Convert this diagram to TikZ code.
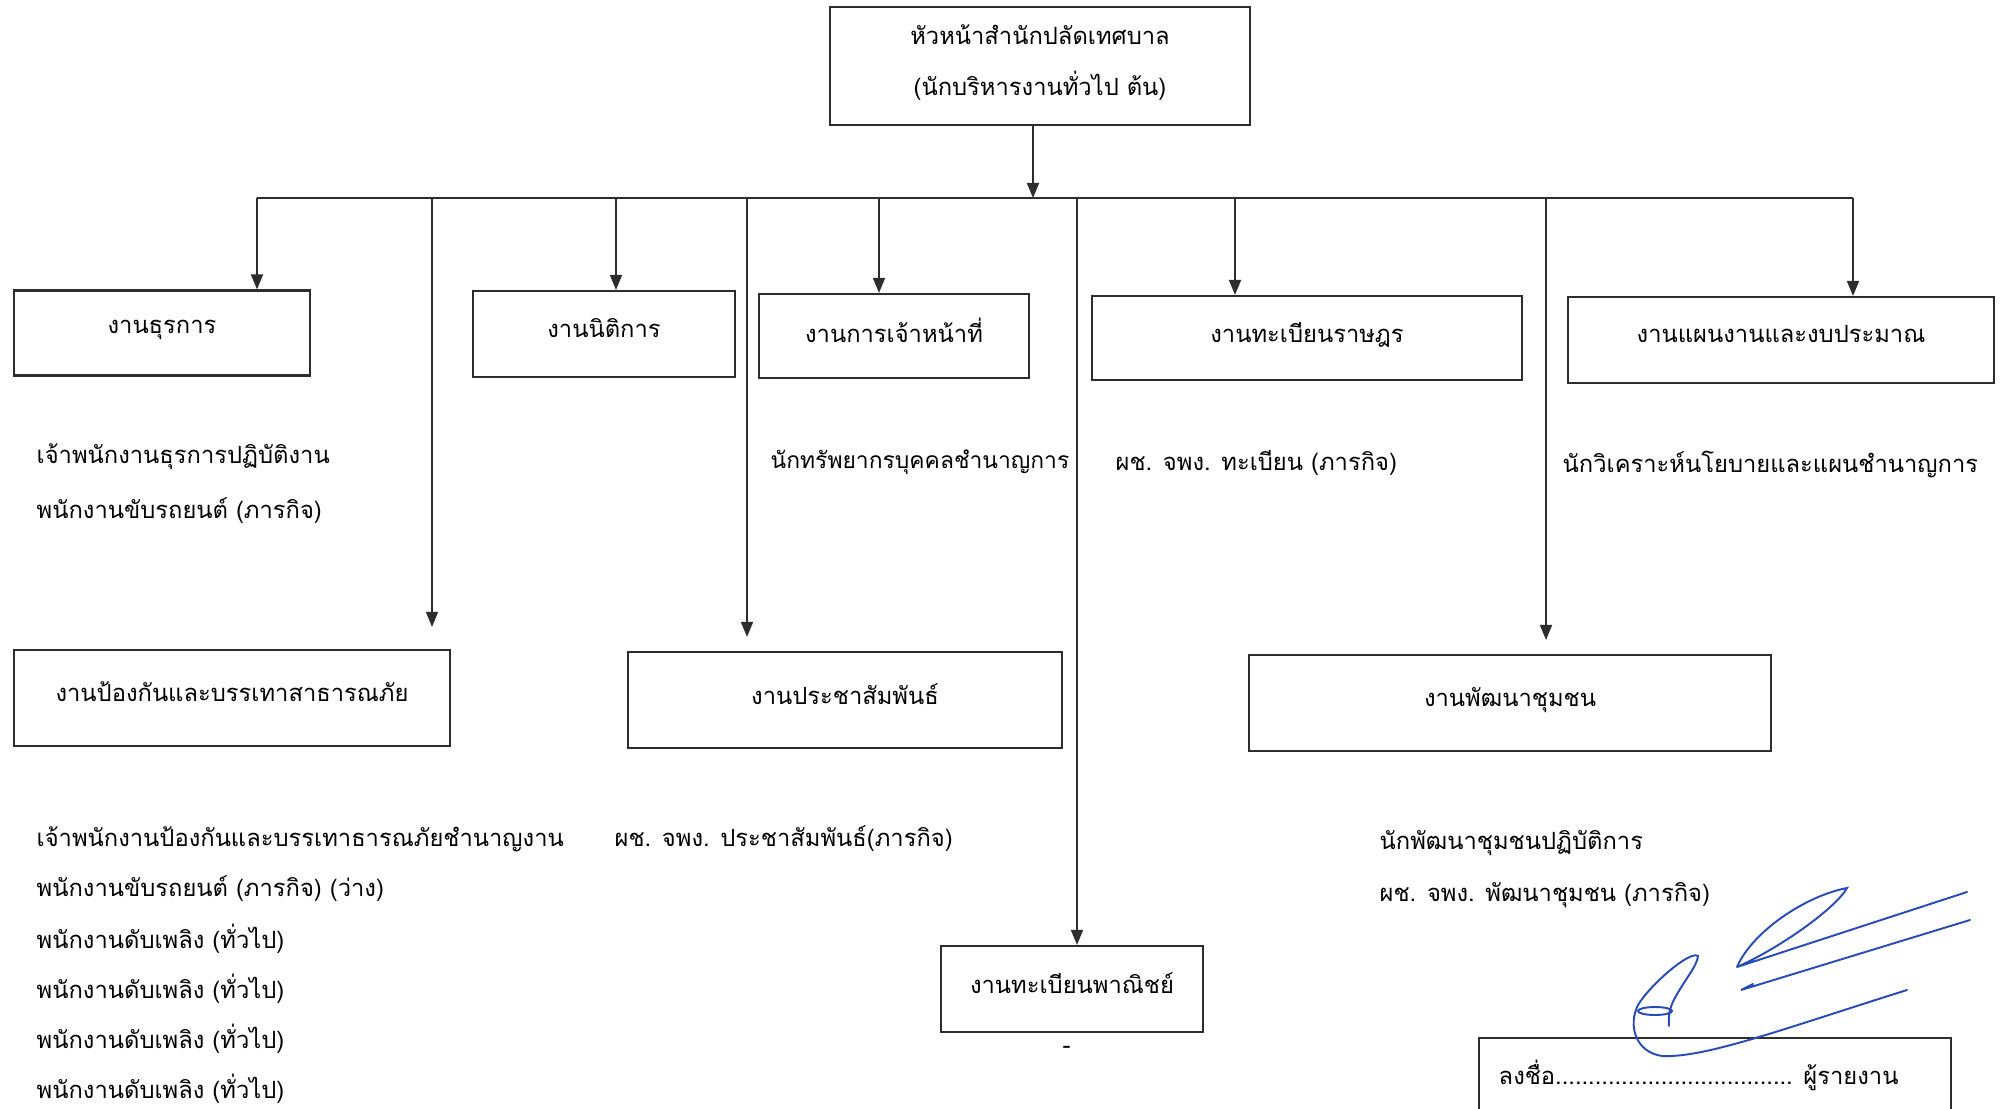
\documentclass[tikz,border=0pt]{standalone}
\usepackage{fontspec}
\setmainfont[Script=Thai]{Loma}
\usetikzlibrary{arrows.meta}
\definecolor{ink}{RGB}{45,45,45}
\definecolor{pen}{RGB}{40,75,185}
\begin{document}
\begin{tikzpicture}[x=0.01cm, y=-0.01cm, font=\fontsize{6.75}{9}\selectfont,
  >={Triangle[length=.15cm,width=.12cm]},
  box/.style={draw=ink, line width=.6pt, inner sep=0pt, text depth=.12cm},
  line/.style={draw=ink, line width=.5pt},
  staff/.style={anchor=west, inner sep=0pt},
  sign/.style={draw=pen, line width=.55pt, line cap=round}]
\useasboundingbox (0,0) rectangle (2002,1109);
% head
\node[box,minimum width=4.19cm,minimum height=1.18cm,align=center,font=\fontsize{6.75}{14.5}\selectfont] (n0) at (1040,66) {หัวหน้าสำนักปลัดเทศบาล\\(นักบริหารงานทั่วไป ต้น)};
% sections
\node[box,minimum width=2.96cm,minimum height=.85cm] (n1) at (162,333) {งานธุรการ};
\node[box,minimum width=2.61cm,minimum height=.86cm] (n2) at (604,334) {งานนิติการ};
\node[box,minimum width=2.69cm,minimum height=.84cm] (n3) at (894,336) {งานการเจ้าหน้าที่};
\node[box,minimum width=4.30cm,minimum height=.84cm] (n4) at (1307,338) {งานทะเบียนราษฎร};
\node[box,minimum width=4.25cm,minimum height=.86cm] (n5) at (1781,340) {งานแผนงานและงบประมาณ};
\node[box,minimum width=4.35cm,minimum height=.96cm] (n6) at (232,698) {งานป้องกันและบรรเทาสาธารณภัย};
\node[box,minimum width=4.33cm,minimum height=.96cm] (n7) at (845,700) {งานประชาสัมพันธ์};
\node[box,minimum width=5.22cm,minimum height=.96cm] (n8) at (1510,703) {งานพัฒนาชุมชน};
\node[box,minimum width=2.61cm,minimum height=.86cm] (n9) at (1072,989) {งานทะเบียนพาณิชย์};
% staff
\node[staff] (p1) at (36,457) {เจ้าพนักงานธุรการปฏิบัติงาน};
\node[staff] (p2) at (36,511) {พนักงานขับรถยนต์ (ภารกิจ)};
\node[staff,font=\fontsize{6.5}{9}\selectfont] (p3) at (770,462) {นักทรัพยากรบุคคลชำนาญการ};
\node[staff] (p4) at (1115,463) {ผช. จพง. ทะเบียน (ภารกิจ)};
\node[staff] (p5) at (1562,465) {นักวิเคราะห์นโยบายและแผนชำนาญการ};
\node[staff] (p6) at (36,839) {เจ้าพนักงานป้องกันและบรรเทาธารณภัยชำนาญงาน};
\node[staff] (p7) at (36,889) {พนักงานขับรถยนต์ (ภารกิจ) (ว่าง)};
\node[staff] (p8) at (36,939) {พนักงานดับเพลิง (ทั่วไป)};
\node[staff] (p9) at (36,989) {พนักงานดับเพลิง (ทั่วไป)};
\node[staff] (p10) at (36,1039) {พนักงานดับเพลิง (ทั่วไป)};
\node[staff] (p11) at (36,1089) {พนักงานดับเพลิง (ทั่วไป)};
\node[staff] (p12) at (614,839) {ผช. จพง. ประชาสัมพันธ์(ภารกิจ)};
\node[staff] (p13) at (1379,843) {นักพัฒนาชุมชนปฏิบัติการ};
\node[staff] (p14) at (1379,895) {ผช. จพง. พัฒนาชุมชน (ภารกิจ)};
\node[staff] (d1) at (1062,1050) {-};
% connectors
\coordinate (b0) at (1033,198);
\coordinate (b1) at (257,198);
\coordinate (b2) at (432,198);
\coordinate (b3) at (616,198);
\coordinate (b4) at (747,198);
\coordinate (b5) at (879,198);
\coordinate (b6) at (1077,198);
\coordinate (b7) at (1235,198);
\coordinate (b8) at (1546,198);
\coordinate (b9) at (1853,198);
\draw[line,->] (b0 |- n0.south) -- (b0);
\draw[line] (b1) -- (b9);
\draw[line,->] (b1) -- (b1 |- n1.north);
\draw[line,->,shorten >=.22cm] (b2) -- (b2 |- n6.north);
\draw[line,->] (b3) -- (b3 |- n2.north);
\draw[line,->,shorten >=.14cm] (b4) -- (b4 |- n7.north);
\draw[line,->] (b5) -- (b5 |- n3.north);
\draw[line,->] (b6) -- (b6 |- n9.north);
\draw[line,->] (b7) -- (b7 |- n4.north);
\draw[line,->,shorten >=.14cm] (b8) -- (b8 |- n8.north);
\draw[line,->] (b9) -- (b9 |- n5.north);
% report box
\draw[line,line width=.6pt] (1479,1109) |- (1951,1038) -- (1951,1109);
\node[staff] (r1) at (1498,1075) {ลงชื่อ.................................... ผู้รายงาน};
% signature
\draw[sign] (1737,967) .. controls (1752,932) and (1805,896) .. (1847,888) .. controls (1836,908) and (1780,948) .. (1737,967) -- (1967,892);
\draw[sign] (1753,984) -- (1741,990) -- (1970,920);
\draw[sign] (1669,1026) .. controls (1668,1015) and (1670,1006) .. (1676,996) .. controls (1686,978) and (1697,966) .. (1698,956) .. controls (1690,950) and (1650,985) .. (1638,1005) .. controls (1628,1025) and (1635,1052) .. (1662,1056) .. controls (1705,1058) and (1780,1030) .. (1907,990);
\draw[sign] (1655,1011) ellipse [x radius=.17cm, y radius=.04cm];
\end{tikzpicture}
\end{document}
